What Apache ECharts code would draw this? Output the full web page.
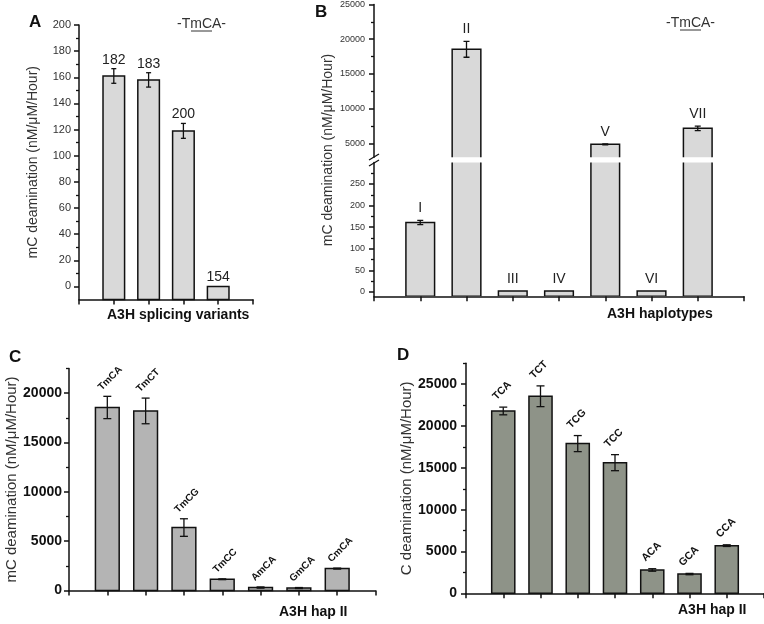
<!DOCTYPE html>
<html><head><meta charset="utf-8">
<script src="https://cdn.jsdelivr.net/npm/echarts@6/dist/echarts.min.js"></script>
<style>html,body{margin:0;padding:0;background:#fff}#c{width:764px;height:624px}</style>
</head><body><div id="c"></div>
<script>
// ---------- data ----------
const aCategories = ['182', '183', '200', '154'];
const aValues = [161, 158, 119, 0];
const aErrors = [5.6, 5.5, 5.7, 0];
const aTicks = [0, 20, 40, 60, 80, 100, 120, 140, 160, 180, 200];
const aMinorTicks = [10, 30, 50, 70, 90, 110, 130, 150, 170, 190];
const aXTicks = [0, 1, 2, 3, 4, 5];

const bCategories = ['I', 'II', 'III', 'IV', 'V', 'VI', 'VII'];
const bValues = [161, 18550, 2, 2, 4850, 2, 7160];
const bErrors = [5, 1150, 0, 0, 60, 0, 330];
const bLowTicks = [0, 50, 100, 150, 200, 250];
const bLowMinorTicks = [25, 75, 125, 175, 225, 275];
const bHighTicks = [5000, 10000, 15000, 20000, 25000];
const bHighMinorTicks = [7500, 12500, 17500, 22500];

const cCategories = ['TmCA', 'TmCT', 'TmCG', 'TmCC', 'AmCA', 'GmCA', 'CmCA'];
const cValues = [18550, 18200, 6380, 1140, 300, 250, 2220];
const cErrors = [1130, 1300, 890, 40, 60, 50, 50];
const cTicks = [0, 5000, 10000, 15000, 20000];
const cMinorTicks = [2500, 7500, 12500, 17500, 22500];

const dCategories = ['TCA', 'TCT', 'TCG', 'TCC', 'ACA', 'GCA', 'CCA'];
const dValues = [21800, 23560, 17900, 15620, 2790, 2300, 5700];
const dErrors = [460, 1240, 960, 960, 150, 80, 100];
const dTicks = [0, 5000, 10000, 15000, 20000, 25000];
const dMinorTicks = [2500, 7500, 12500, 17500, 22500, 27500];

const xTicks8 = [0, 1, 2, 3, 4, 5, 6, 7, 8];

// ---------- helpers ----------
const FONT = '"Liberation Sans", Arial, sans-serif';
const NARROW = '"Liberation Sans Narrow", "Liberation Sans", Arial, sans-serif';
const toData = (vals, errs) => vals.map((v, i) => [i + 1, v, errs[i]]);

function barRenderer(cfg) {
  return function (params, api) {
    const i = params.dataIndex;
    const x = api.value(0), v = api.value(1), e = api.value(2);
    const p0 = api.coord([x, cfg.base]);
    const p1 = api.coord([x, v]);
    const w = api.size([0.62, 0])[0];
    const kids = [{
      type: 'rect',
      shape: { x: p1[0] - w / 2, y: p1[1], width: w, height: p0[1] - p1[1] },
      style: { fill: cfg.color, stroke: '#111', lineWidth: 1.5 }
    }];
    let top = p1[1];
    if (e > 0) {
      const hi = api.coord([x, v + e]), lo = api.coord([x, v - e]);
      const c = cfg.cap / 2;
      const st = { stroke: '#111', lineWidth: 1.3 };
      kids.push({ type: 'line', shape: { x1: hi[0], y1: hi[1], x2: lo[0], y2: lo[1] }, style: st });
      kids.push({ type: 'line', shape: { x1: hi[0] - c, y1: hi[1], x2: hi[0] + c, y2: hi[1] }, style: st });
      kids.push({ type: 'line', shape: { x1: lo[0] - c, y1: lo[1], x2: lo[0] + c, y2: lo[1] }, style: st });
      top = Math.min(top, hi[1]);
    }
    const inRange = (cfg.labelMin === undefined || v >= cfg.labelMin) && (cfg.labelMax === undefined || v <= cfg.labelMax);
    if (cfg.labels && inRange) {
      kids.push({
        type: 'text',
        x: p1[0] + (cfg.labelDx || 0),
        y: top - cfg.labelGap,
        rotation: cfg.rotate || 0,
        style: {
          text: cfg.labels[i], font: cfg.font, fill: cfg.textColor,
          align: cfg.align, verticalAlign: 'bottom',
          textAlign: cfg.align, textVerticalAlign: 'bottom'
        }
      });
    }
    return { type: 'group', children: kids };
  };
}

const axisLine = { show: true, onZero: false, lineStyle: { color: '#111', width: 1.5 } };
const plain = v => String(v);

function xAxisDef(grid, max, ticks, show) {
  return {
    type: 'value', gridIndex: grid, min: 0, max: max, show: show, position: 'bottom',
    axisLine: axisLine,
    axisTick: { show: true, customValues: ticks, length: 5, inside: false, lineStyle: { color: '#111', width: 1.5 } },
    axisLabel: { show: false, customValues: ticks }, splitLine: { show: false }
  };
}
function yMain(grid, min, max, ticks, label, name, nameGap, nameSize) {
  const o = {
    type: 'value', gridIndex: grid, min: min, max: max, position: 'left',
    axisLine: axisLine,
    axisTick: { show: true, customValues: ticks, length: 5, lineStyle: { color: '#111', width: 1.5 } },
    axisLabel: Object.assign({ customValues: ticks, formatter: plain }, label),
    splitLine: { show: false }
  };
  if (name) {
    o.name = name; o.nameLocation = 'middle'; o.nameGap = nameGap;
    o.nameTextStyle = { fontSize: nameSize, color: '#333', fontFamily: FONT };
  }
  return o;
}
function yMinor(grid, min, max, ticks) {
  return {
    type: 'value', gridIndex: grid, min: min, max: max, position: 'left', offset: 0,
    axisLine: { show: false, onZero: false },
    axisTick: { show: true, customValues: ticks, length: 3, lineStyle: { color: '#111', width: 1.3 } },
    axisLabel: { show: false }, splitLine: { show: false }
  };
}

const labelAB = { fontSize: 11, color: '#333', fontFamily: FONT, margin: 8 };
const labelB = { fontSize: 9, color: '#333', fontFamily: NARROW, margin: 9 };
const labelCD = { fontSize: 14, fontWeight: 'bold', color: '#111', fontFamily: FONT, margin: 8 };

const option = {
  animation: false,
  backgroundColor: '#fff',
  grid: [
    { left: 79, top: 25, width: 174, height: 274.5 },      // A
    { left: 374, top: 4.5, width: 370, height: 152.7 },   // B upper
    { left: 374, top: 162.4, width: 370, height: 133.9 }, // B lower
    { left: 69, top: 368.5, width: 306.5, height: 222 },  // C
    { left: 466, top: 363.3, width: 309.5, height: 230 }  // D
  ],
  xAxis: [
    xAxisDef(0, 5, aXTicks, true),
    xAxisDef(1, 8, xTicks8, false),
    xAxisDef(2, 8, xTicks8, true),
    xAxisDef(3, 8, xTicks8, true),
    xAxisDef(4, 8, xTicks8, true)
  ],
  yAxis: [
    yMain(0, -10, 200, aTicks, labelAB, 'mC deamination (nM/\u03bcM/Hour)', 39, 14),
    yMain(1, 3000, 25000, bHighTicks, labelB),
    yMain(2, -10, 300, bLowTicks, labelB),
    yMain(3, 0, 22500, cTicks, Object.assign({}, labelCD, { margin: 7 }), 'mC deamination (nM/\u03bcM/Hour)', 49, 15),
    yMain(4, 0, 27500, dTicks, Object.assign({}, labelCD, { margin: 9 }), 'C deamination (nM/\u03bcM/Hour)', 50, 15),
    yMinor(0, -10, 200, aMinorTicks),
    yMinor(1, 3000, 25000, bHighMinorTicks),
    yMinor(2, -10, 300, bLowMinorTicks),
    yMinor(3, 0, 22500, cMinorTicks),
    yMinor(4, 0, 27500, dMinorTicks)
  ],
  series: [
    {
      type: 'custom', xAxisIndex: 0, yAxisIndex: 0, clip: false,
      encode: { x: 0, y: 1 }, data: toData(aValues, aErrors),
      renderItem: barRenderer({ base: -10, color: '#d9d9d9', cap: 5, labels: aCategories,
        font: '14px ' + FONT, textColor: '#222', labelGap: 2, align: 'center' })
    },
    {
      type: 'custom', xAxisIndex: 1, yAxisIndex: 1, clip: true,
      encode: { x: 0, y: 1 }, data: toData(bValues, bErrors),
      renderItem: barRenderer({ base: 0, color: '#d9d9d9', cap: 6, labels: bCategories, labelMin: 3000,
        font: '14px ' + FONT, textColor: '#222', labelGap: 5, align: 'center' })
    },
    {
      type: 'custom', xAxisIndex: 2, yAxisIndex: 2, clip: true,
      encode: { x: 0, y: 1 }, data: toData(bValues, bErrors),
      renderItem: barRenderer({ base: -10, color: '#d9d9d9', cap: 6, labels: bCategories, labelMax: 300,
        font: '14px ' + FONT, textColor: '#222', labelGap: 5, align: 'center' })
    },
    {
      type: 'custom', xAxisIndex: 3, yAxisIndex: 3, clip: false,
      encode: { x: 0, y: 1 }, data: toData(cValues, cErrors),
      renderItem: barRenderer({ base: 0, color: '#b4b4b4', cap: 8, labels: cCategories,
        font: 'bold 10px ' + FONT, textColor: '#111', labelGap: 4, labelDx: -4, rotate: Math.PI / 4, align: 'left' })
    },
    {
      type: 'custom', xAxisIndex: 4, yAxisIndex: 4, clip: false,
      encode: { x: 0, y: 1 }, data: toData(dValues, dErrors),
      renderItem: barRenderer({ base: 0, color: '#8e9388', cap: 8, labels: dCategories,
        font: 'bold 10.5px ' + FONT, textColor: '#111', labelGap: 5, labelDx: -5, rotate: Math.PI / 4, align: 'left' })
    }
  ],
  graphic: [
    // panel letters
    { type: 'text', left: 29, top: 14, style: { text: 'A', font: 'bold 17px ' + FONT, fill: '#111' } },
    { type: 'text', left: 315, top: 4, style: { text: 'B', font: 'bold 17px ' + FONT, fill: '#111' } },
    { type: 'text', left: 9, top: 349, style: { text: 'C', font: 'bold 17px ' + FONT, fill: '#111' } },
    { type: 'text', left: 397, top: 347, style: { text: 'D', font: 'bold 17px ' + FONT, fill: '#111' } },
    // -TmCA- annotations
    { type: 'text', left: 177, top: 17, style: { text: '-TmCA-', font: '14px ' + FONT, fill: '#333' } },
    { type: 'line', shape: { x1: 191, y1: 31, x2: 212, y2: 31 }, style: { stroke: '#333', lineWidth: 1 } },
    { type: 'text', left: 666, top: 16, style: { text: '-TmCA-', font: '14px ' + FONT, fill: '#333' } },
    { type: 'line', shape: { x1: 680, y1: 30, x2: 701, y2: 30 }, style: { stroke: '#333', lineWidth: 1 } },
    // axis titles
    { type: 'text', left: 107, top: 308, style: { text: 'A3H splicing variants', font: 'bold 14px ' + FONT, fill: '#111' } },
    { type: 'text', left: 607, top: 307, style: { text: 'A3H haplotypes', font: 'bold 14px ' + FONT, fill: '#111' } },
    { type: 'text', left: 279, top: 605, style: { text: 'A3H hap II', font: 'bold 14px ' + FONT, fill: '#111' } },
    { type: 'text', left: 678, top: 603, style: { text: 'A3H hap II', font: 'bold 14px ' + FONT, fill: '#111' } },
    { type: 'text', x: 328, y: 150, rotation: Math.PI / 2,
      style: { text: 'mC deamination (nM/\u03bcM/Hour)', font: '14px ' + FONT, fill: '#333',
        align: 'center', verticalAlign: 'middle', textAlign: 'center', textVerticalAlign: 'middle' } },
    // axis break marks
    { type: 'line', shape: { x1: 369, y1: 160, x2: 379, y2: 154 }, style: { stroke: '#111', lineWidth: 1.3 } },
    { type: 'line', shape: { x1: 369, y1: 166, x2: 379, y2: 160 }, style: { stroke: '#111', lineWidth: 1.3 } }
  ]
};

const chart = echarts.init(document.getElementById('c'), null, { renderer: 'canvas' });
chart.setOption(option);
</script>
</body></html>
